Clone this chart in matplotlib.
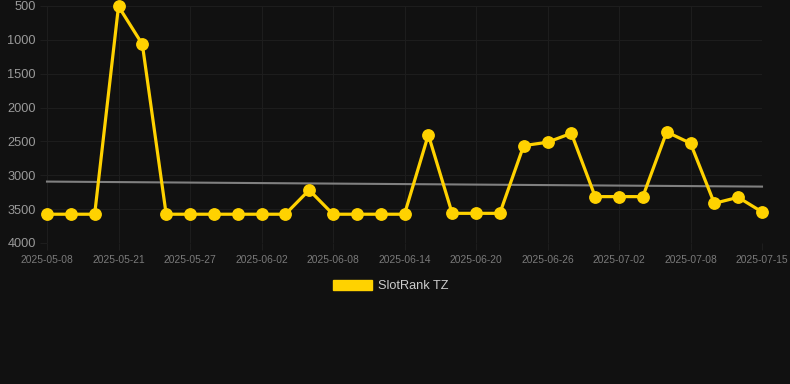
import matplotlib
matplotlib.use("Agg")
import matplotlib.pyplot as plt
from matplotlib.patches import Patch

dates = ["2025-05-08", "2025-05-10", "2025-05-12", "2025-05-21", "2025-05-23", "2025-05-25",
         "2025-05-27", "2025-05-29", "2025-05-31", "2025-06-02", "2025-06-04", "2025-06-06",
         "2025-06-08", "2025-06-10", "2025-06-12", "2025-06-14", "2025-06-16", "2025-06-18",
         "2025-06-20", "2025-06-22", "2025-06-24", "2025-06-26", "2025-06-28", "2025-06-30",
         "2025-07-02", "2025-07-04", "2025-07-06", "2025-07-08", "2025-07-10", "2025-07-12",
         "2025-07-15"]
rank = [3575, 3575, 3575, 505, 1065, 3575,
        3575, 3575, 3575, 3575, 3575, 3218,
        3575, 3575, 3575, 3575, 2402, 3562,
        3562, 3562, 2562, 2512, 2380, 3315,
        3315, 3315, 2360, 2527, 3414, 3325,
        3541]
trend_start = 3093
trend_end = 3167
yticks = [500, 1000, 1500, 2000, 2500, 3000, 3500, 4000]
series_name = "SlotRank TZ"

bg = "#111111"
gold = "#FFD200"

fig = plt.figure(figsize=(7.9, 3.84), dpi=100, facecolor=bg)
W, H = 790, 384
ax = fig.add_axes([47 / W, 1 - 243 / H, (762 - 47) / W, (243 - 6) / H], facecolor=bg)

x = list(range(len(rank)))
ax.plot([x[0], x[-1]], [trend_start, trend_end], color="#808080", lw=1.5, zorder=2, clip_on=False)
ax.plot(x, rank, color=gold, lw=2.3, marker="o", markersize=8.2, markerfacecolor=gold,
        markeredgecolor=gold, zorder=3, clip_on=False)

ax.set_xlim(0, len(rank) - 1)
ax.set_ylim(4000, 500)
ax.set_yticks(yticks)
ax.set_yticklabels([str(v) for v in yticks])
tick_idx = list(range(0, len(dates), 3))
ax.set_xticks(tick_idx)
ax.set_xticklabels([dates[i] for i in tick_idx])

for s in ax.spines.values():
    s.set_visible(False)
grid_c = "#1d1d1d"
ax.grid(True, color=grid_c, lw=0.8)
ax.set_axisbelow(True)
ax.tick_params(axis="y", colors=grid_c, labelcolor="#9a9a9a", labelsize=9.2, length=5, pad=3)
ax.tick_params(axis="x", colors=grid_c, labelcolor="#7a7a7a", labelsize=7.4, length=5, pad=3.5)
for lab in ax.get_yticklabels() + ax.get_xticklabels():
    lab.set_family(["Liberation Sans", "DejaVu Sans"])

leg = fig.legend(handles=[Patch(facecolor=gold, edgecolor=gold)], labels=[series_name],
                 loc="center", bbox_to_anchor=(391 / W, 1 - 286 / H), frameon=False,
                 handlelength=3.0, handleheight=0.85, handletextpad=0.5,
                 prop={"family": ["Liberation Sans", "DejaVu Sans"], "size": 9.2})
for t in leg.get_texts():
    t.set_color("#cccccc")

fig.savefig("out.png", dpi=100, facecolor=bg)
